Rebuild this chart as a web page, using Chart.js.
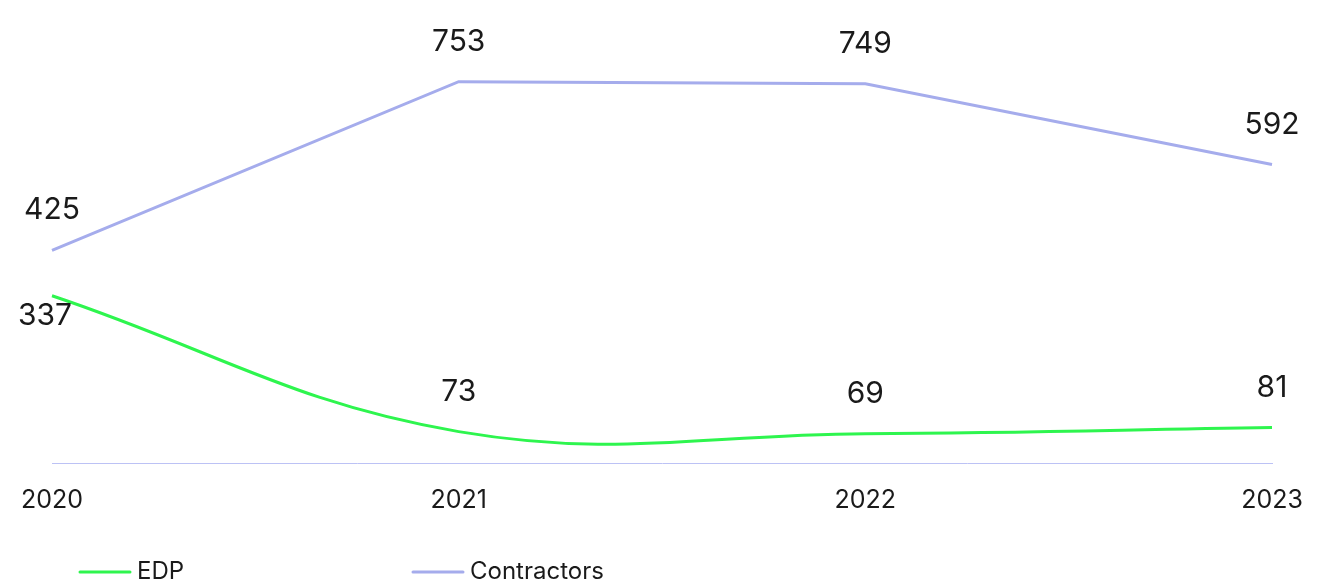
<!DOCTYPE html>
<html>
<head>
<meta charset="utf-8">
<script src="https://cdn.jsdelivr.net/npm/chart.js@4"></script>
<style>
  html, body { margin: 0; padding: 0; background: #fff; }
  #wrap { width: 1318px; height: 584px; position: relative; }
</style>
</head>
<body>
<div id="wrap"><canvas id="myChart"></canvas></div>
<script>
// data
const years = ['2020', '2021', '2022', '2023'];
const edp = [337, 73, 69, 81];
const contractors = [425, 753, 749, 592];

const green = '#2ef54e';
const lavender = '#a5acec';
const textColor = '#1a1a1a';
const fontFamily = 'Inter, "Noto Sans", sans-serif';

// value labels above points (first EDP label goes below so it doesn't hit the other line)
const valueLabels = {
    id: 'valueLabels',
    afterDatasetsDraw(chart) {
        const ctx = chart.ctx;
        ctx.save();
        ctx.font = '30px ' + fontFamily;
        ctx.fillStyle = textColor;
        ctx.textAlign = 'center';
        ctx.textBaseline = 'middle';
        chart.data.datasets.forEach((ds, i) => {
            const meta = chart.getDatasetMeta(i);
            meta.data.forEach((pt, j) => {
                let y = pt.y - 40;
                let x = pt.x;
                if (ds.labelBelow && ds.labelBelow.includes(j)) {
                    y = pt.y + 20;
                    x = pt.x - 7;
                }
                ctx.fillText(String(ds.data[j]), x, y);
            });
        });
        ctx.restore();
    }
};

// legend drawn by hand, items spread wide like the original
const wideLegend = {
    id: 'wideLegend',
    afterDraw(chart) {
        const ctx = chart.ctx;
        const starts = [80, 413];
        ctx.save();
        ctx.font = '24px ' + fontFamily;
        ctx.textBaseline = 'middle';
        ctx.textAlign = 'left';
        chart.data.datasets.forEach((ds, i) => {
            const x = starts[i];
            const y = 572;
            ctx.strokeStyle = ds.borderColor;
            ctx.lineWidth = 3;
            ctx.lineCap = 'round';
            ctx.beginPath();
            ctx.moveTo(x, y);
            ctx.lineTo(x + 50, y);
            ctx.stroke();
            ctx.fillStyle = textColor;
            ctx.fillText(ds.label, x + 57, y);
        });
        ctx.restore();
    }
};

const ctx = document.getElementById('myChart').getContext('2d');

const myChart = new Chart(ctx, {
    type: 'line',
    data: {
        labels: years,
        datasets: [{
            label: 'EDP',
            data: edp,
            borderColor: green,
            borderWidth: 3,
            tension: 0.4,
            pointRadius: 0,
            labelBelow: [0]
        }, {
            label: 'Contractors',
            data: contractors,
            borderColor: lavender,
            borderWidth: 3,
            tension: 0,
            pointRadius: 0
        }]
    },
    options: {
        responsive: true,
        maintainAspectRatio: false,
        animation: false,
        layout: {
            padding: { left: 52, right: 46, top: 6, bottom: 47 }
        },
        plugins: {
            legend: { display: false },
            tooltip: { enabled: false }
        },
        scales: {
            x: {
                offset: false,
                grid: { display: false, drawTicks: false },
                border: { display: true, color: '#bcc2f5', width: 1 },
                ticks: {
                    padding: 22,
                    color: textColor,
                    font: { family: fontFamily, size: 25 },
                    maxRotation: 0
                },
                // let the layout padding alone decide the plot edges
                afterFit(scale) {
                    scale.paddingLeft = 0;
                    scale.paddingRight = 0;
                }
            },
            y: {
                display: false,
                min: 12,
                max: 900
            }
        }
    },
    plugins: [valueLabels, wideLegend]
});
</script>
</body>
</html>
